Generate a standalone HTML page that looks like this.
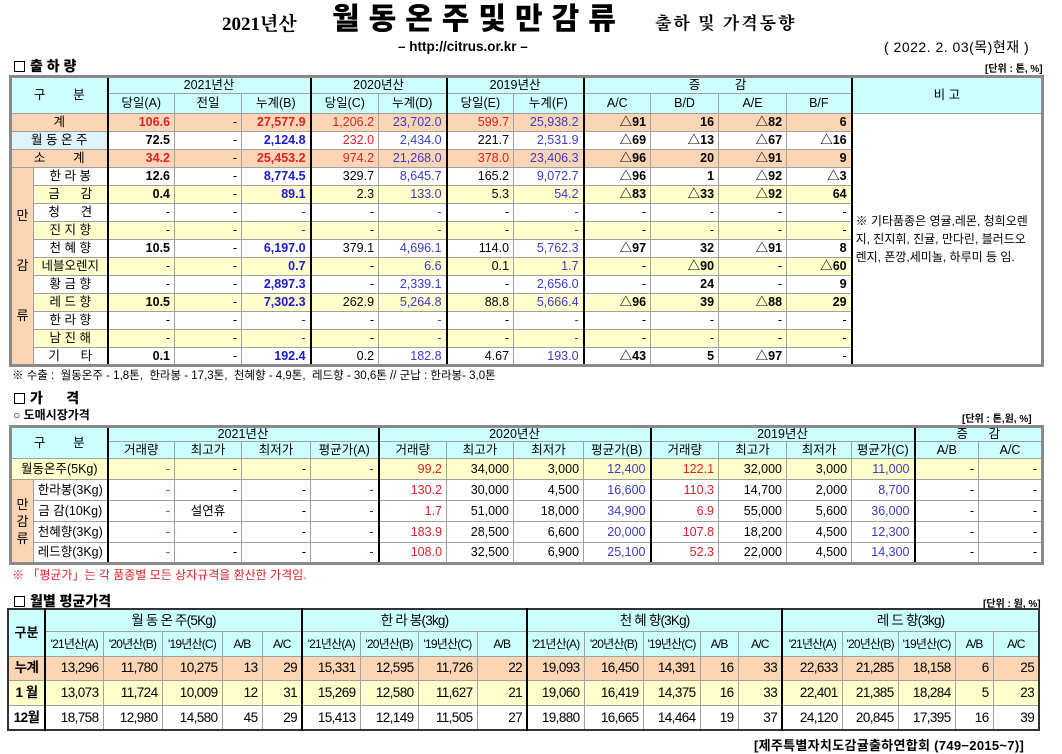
<!DOCTYPE html>
<html><head><meta charset="utf-8">
<style>
*{margin:0;padding:0;box-sizing:border-box}
body{width:1062px;height:754px;background:#fff;position:relative;overflow:hidden;font-family:"Liberation Sans","Noto Sans CJK KR",sans-serif;color:#000}
.a{position:absolute;white-space:nowrap}
table{position:absolute;border-collapse:collapse;table-layout:fixed;font-size:12.5px}
td{border:1px solid #a0a0a0;text-align:right;padding:0 4px;overflow:hidden;white-space:nowrap;line-height:1}
.h td{background:#ccffff;text-align:center;padding:0}
.c{text-align:center!important;padding:0!important}
.pk td{background:#fcd5b4}
.yl td{background:#ffffcc}
.b{font-weight:bold}
.r{color:#e0202a}
.bl{color:#1a1ad0}
.pu{color:#3a3ac8}
.bv{border-left:2px solid #000}
.t1{border:3px solid #8a8a8a}
.mg{background:#fcd5b4!important;text-align:center;padding:0}
.sq{display:inline-block;width:11px;height:11px;border:1px solid #000;margin-right:5px;vertical-align:-1px}
.t3 td{font-size:13.5px;letter-spacing:-0.6px}
.t3 .h td{letter-spacing:-0.8px}
</style></head><body>

<div class="a" style="left:222px;top:9px;font-family:'Liberation Serif','Noto Serif CJK SC',serif;font-weight:bold;font-size:19px">2021년산</div>
<div class="a" style="left:332px;top:2px;font-weight:900;font-size:30px;letter-spacing:9px;line-height:36px">월동온주및만감류</div>
<div class="a" style="left:655px;top:9px;font-family:'Noto Serif CJK SC',serif;font-weight:bold;font-size:17px;letter-spacing:2px">출하 및 가격동향</div>
<div class="a" style="left:398px;top:39px;font-weight:bold;font-size:13.5px">– http://citrus.or.kr –</div>
<div class="a" style="left:884px;top:37px;font-size:14px;letter-spacing:0.5px">( 2022. 2. 03(목)현재 )</div>

<div class="a" style="left:14px;top:56px;font-weight:900;font-size:14px"><span class="sq"></span>출 하 량</div>
<div class="a" style="left:985px;top:60px;font-size:10px;font-weight:bold">[단위 : 톤, %]</div>

<table class="t1" style="left:9px;top:75px;width:1035px">
<colgroup><col style="width:23px"><col style="width:74px"><col style="width:67px"><col style="width:67px"><col style="width:69px"><col style="width:68px"><col style="width:68px"><col style="width:67px"><col style="width:70px"><col style="width:67px"><col style="width:68px"><col style="width:68px"><col style="width:65px"><col style="width:191px"></colgroup>
<tr class="h" style="height:17px"><td colspan="2" rowspan="2">구&nbsp;&nbsp;&nbsp;&nbsp;&nbsp;&nbsp;&nbsp;&nbsp;분</td><td colspan="3" class="bv">2021년산</td><td colspan="2" class="bv">2020년산</td><td colspan="2" class="bv">2019년산</td><td colspan="4" class="bv">증&nbsp;&nbsp;&nbsp;&nbsp;&nbsp;&nbsp;&nbsp;&nbsp;&nbsp;&nbsp;감</td><td rowspan="2" class="bv">비 고</td></tr>
<tr class="h" style="height:20px"><td class="bv">당일(A)</td><td>전일</td><td>누계(B)</td><td class="bv">당일(C)</td><td>누계(D)</td><td class="bv">당일(E)</td><td>누계(F)</td><td class="bv">A/C</td><td>B/D</td><td>A/E</td><td>B/F</td></tr>
<tr class="pk" style="height:18px"><td colspan="2" class="c">계</td><td class="bv b r">106.6</td><td>-</td><td class="b r">27,577.9</td><td class="bv r">1,206.2</td><td class="pu">23,702.0</td><td class="bv r">599.7</td><td class="pu">25,938.2</td><td class="bv b">△91</td><td class="b">16</td><td class="b">△82</td><td class="b">6</td><td rowspan="14" class="bv" style="background:#fff;text-align:left;padding:0 12px 0 3px;font-size:12px;line-height:18px;white-space:normal;vertical-align:middle">※ 기타품종은 영귤,레몬, 청희오렌지, 진지휘, 진귤, 만다린, 블러드오렌지, 폰깡,세미놀, 하루미 등 임.</td></tr>
<tr style="height:18px"><td colspan="2" class="c" style="background:#dff4fa">월 동 온 주</td><td class="bv b">72.5</td><td>-</td><td class="b bl">2,124.8</td><td class="bv r">232.0</td><td class="pu">2,434.0</td><td class="bv">221.7</td><td class="pu">2,531.9</td><td class="bv b">△69</td><td class="b">△13</td><td class="b">△67</td><td class="b">△16</td></tr>
<tr class="pk" style="height:18px"><td colspan="2" class="c">소&nbsp;&nbsp;&nbsp;&nbsp;&nbsp;&nbsp;&nbsp;&nbsp;계</td><td class="bv b r">34.2</td><td>-</td><td class="b r">25,453.2</td><td class="bv r">974.2</td><td class="pu">21,268.0</td><td class="bv r">378.0</td><td class="pu">23,406.3</td><td class="bv b">△96</td><td class="b">20</td><td class="b">△91</td><td class="b">9</td></tr>
<tr style="height:18px"><td rowspan="11" class="mg" style="line-height:50px;white-space:normal;font-size:13px">만<br>감<br>류</td><td class="c">한 라 봉</td><td class="bv b">12.6</td><td>-</td><td class="b bl">8,774.5</td><td class="bv">329.7</td><td class="pu">8,645.7</td><td class="bv">165.2</td><td class="pu">9,072.7</td><td class="bv b">△96</td><td class="b">1</td><td class="b">△92</td><td class="b">△3</td></tr>
<tr class="yl" style="height:18px"><td class="c">금&nbsp;&nbsp;&nbsp;&nbsp;&nbsp;&nbsp;감</td><td class="bv b">0.4</td><td>-</td><td class="b bl">89.1</td><td class="bv">2.3</td><td class="pu">133.0</td><td class="bv">5.3</td><td class="pu">54.2</td><td class="bv b">△83</td><td class="b">△33</td><td class="b">△92</td><td class="b">64</td></tr>
<tr style="height:18px"><td class="c">청&nbsp;&nbsp;&nbsp;&nbsp;&nbsp;&nbsp;견</td><td class="bv">-</td><td>-</td><td class="bl">-</td><td class="bv">-</td><td class="pu">-</td><td class="bv">-</td><td class="pu">-</td><td class="bv">-</td><td>-</td><td>-</td><td>-</td></tr>
<tr class="yl" style="height:18px"><td class="c">진 지 향</td><td class="bv">-</td><td>-</td><td class="bl">-</td><td class="bv">-</td><td class="pu">-</td><td class="bv">-</td><td class="pu">-</td><td class="bv">-</td><td>-</td><td>-</td><td>-</td></tr>
<tr style="height:18px"><td class="c">천 혜 향</td><td class="bv b">10.5</td><td>-</td><td class="b bl">6,197.0</td><td class="bv">379.1</td><td class="pu">4,696.1</td><td class="bv">114.0</td><td class="pu">5,762.3</td><td class="bv b">△97</td><td class="b">32</td><td class="b">△91</td><td class="b">8</td></tr>
<tr class="yl" style="height:18px"><td class="c">네블오렌지</td><td class="bv">-</td><td>-</td><td class="b bl">0.7</td><td class="bv">-</td><td class="pu">6.6</td><td class="bv">0.1</td><td class="pu">1.7</td><td class="bv">-</td><td class="b">△90</td><td>-</td><td class="b">△60</td></tr>
<tr style="height:18px"><td class="c">황 금 향</td><td class="bv">-</td><td>-</td><td class="b bl">2,897.3</td><td class="bv">-</td><td class="pu">2,339.1</td><td class="bv">-</td><td class="pu">2,656.0</td><td class="bv">-</td><td class="b">24</td><td>-</td><td class="b">9</td></tr>
<tr class="yl" style="height:18px"><td class="c">레 드 향</td><td class="bv b">10.5</td><td>-</td><td class="b bl">7,302.3</td><td class="bv">262.9</td><td class="pu">5,264.8</td><td class="bv">88.8</td><td class="pu">5,666.4</td><td class="bv b">△96</td><td class="b">39</td><td class="b">△88</td><td class="b">29</td></tr>
<tr style="height:18px"><td class="c">한 라 향</td><td class="bv">-</td><td>-</td><td class="bl">-</td><td class="bv">-</td><td class="pu">-</td><td class="bv">-</td><td class="pu">-</td><td class="bv">-</td><td>-</td><td>-</td><td>-</td></tr>
<tr class="yl" style="height:18px"><td class="c">남 진 해</td><td class="bv">-</td><td>-</td><td class="bl">-</td><td class="bv">-</td><td class="pu">-</td><td class="bv">-</td><td class="pu">-</td><td class="bv">-</td><td>-</td><td>-</td><td>-</td></tr>
<tr style="height:18px"><td class="c">기&nbsp;&nbsp;&nbsp;&nbsp;&nbsp;&nbsp;타</td><td class="bv b">0.1</td><td>-</td><td class="b bl">192.4</td><td class="bv">0.2</td><td class="pu">182.8</td><td class="bv">4.67</td><td class="pu">193.0</td><td class="bv b">△43</td><td class="b">5</td><td class="b">△97</td><td>-</td></tr>
</table>

<div class="a" style="left:12px;top:367px;font-size:11.5px">※ 수출 :&nbsp; 월동온주 - 1,8톤,&nbsp; 한라봉 - 17,3톤,&nbsp; 천혜향 - 4,9톤,&nbsp; 레드향 - 30,6톤 // 군납 : 한라봉- 3,0톤</div>

<div class="a" style="left:14px;top:388px;font-weight:900;font-size:14px"><span class="sq"></span>가&nbsp;&nbsp;&nbsp;&nbsp;&nbsp;&nbsp;격</div>
<div class="a" style="left:13px;top:406px;font-weight:bold;font-size:12px">○ 도매시장가격</div>
<div class="a" style="left:962px;top:410px;font-size:10px;font-weight:bold">[단위 : 톤,원, %]</div>

<table class="t1" style="left:9px;top:425px;width:1035px">
<colgroup><col style="width:23px"><col style="width:74px"><col style="width:67px"><col style="width:67px"><col style="width:69px"><col style="width:68px"><col style="width:68px"><col style="width:67px"><col style="width:70px"><col style="width:67px"><col style="width:68px"><col style="width:68px"><col style="width:65px"><col style="width:63px"><col style="width:64px"><col style="width:64px"></colgroup>
<tr class="h" style="height:15px"><td colspan="2" rowspan="2">구&nbsp;&nbsp;&nbsp;&nbsp;&nbsp;&nbsp;&nbsp;&nbsp;분</td><td colspan="4" class="bv">2021년산</td><td colspan="4" class="bv">2020년산</td><td colspan="4" class="bv">2019년산</td><td colspan="2" class="bv">증&nbsp;&nbsp;&nbsp;&nbsp;&nbsp;&nbsp;감</td></tr>
<tr class="h" style="height:17px"><td class="bv">거래량</td><td>최고가</td><td>최저가</td><td>평균가(A)</td><td class="bv">거래량</td><td>최고가</td><td>최저가</td><td>평균가(B)</td><td class="bv">거래량</td><td>최고가</td><td>최저가</td><td>평균가(C)</td><td class="bv">A/B</td><td style="border-left:1px dotted #000">A/C</td></tr>
<tr class="yl" style="height:21px"><td colspan="2" class="c">월동온주(5Kg)</td><td class="bv r">-</td><td>-</td><td>-</td><td class="bl">-</td><td class="bv r">99.2</td><td>34,000</td><td>3,000</td><td class="pu">12,400</td><td class="bv r">122.1</td><td>32,000</td><td>3,000</td><td class="pu">11,000</td><td class="bv">-</td><td style="border-left:1px dotted #000">-</td></tr>
<tr style="height:21px"><td rowspan="4" class="mg" style="line-height:17px;white-space:normal;font-size:13px">만<br>감<br>류</td><td class="c">한라봉(3Kg)</td><td class="bv r">-</td><td>-</td><td>-</td><td class="bl">-</td><td class="bv r">130.2</td><td>30,000</td><td>4,500</td><td class="pu">16,600</td><td class="bv r">110.3</td><td>14,700</td><td>2,000</td><td class="pu">8,700</td><td class="bv">-</td><td style="border-left:1px dotted #000">-</td></tr>
<tr style="height:21px"><td class="c">금 감(10Kg)</td><td class="bv r">-</td><td class="c">설연휴</td><td>-</td><td class="bl">-</td><td class="bv r">1.7</td><td>51,000</td><td>18,000</td><td class="pu">34,900</td><td class="bv r">6.9</td><td>55,000</td><td>5,600</td><td class="pu">36,000</td><td class="bv">-</td><td style="border-left:1px dotted #000">-</td></tr>
<tr style="height:21px"><td class="c">천혜향(3Kg)</td><td class="bv r">-</td><td>-</td><td>-</td><td class="bl">-</td><td class="bv r">183.9</td><td>28,500</td><td>6,600</td><td class="pu">20,000</td><td class="bv r">107.8</td><td>18,200</td><td>4,500</td><td class="pu">12,300</td><td class="bv">-</td><td style="border-left:1px dotted #000">-</td></tr>
<tr style="height:21px"><td class="c">레드향(3Kg)</td><td class="bv r">-</td><td>-</td><td>-</td><td class="bl">-</td><td class="bv r">108.0</td><td>32,500</td><td>6,900</td><td class="pu">25,100</td><td class="bv r">52.3</td><td>22,000</td><td>4,500</td><td class="pu">14,300</td><td class="bv">-</td><td style="border-left:1px dotted #000">-</td></tr>
</table>

<div class="a r" style="left:12px;top:566px;font-size:12px">※ 「평균가」는 각 품종별 모든 상자규격을 환산한 가격임.</div>

<div class="a" style="left:14px;top:591px;font-weight:900;font-size:14px"><span class="sq"></span>월별 평균가격</div>
<div class="a" style="left:983px;top:595px;font-size:10px;font-weight:bold">[단위 : 원, %]</div>

<table class="t3" style="left:7px;top:608px;width:1033px;border:2px solid #333">
<colgroup><col style="width:37px"><col style="width:58px"><col style="width:59px"><col style="width:60px"><col style="width:40px"><col style="width:40px"><col style="width:58px"><col style="width:58px"><col style="width:59px"><col style="width:50px"><col style="width:57px"><col style="width:59px"><col style="width:57px"><col style="width:38px"><col style="width:44px"><col style="width:60px"><col style="width:56px"><col style="width:57px"><col style="width:38px"><col style="width:46px"></colgroup>
<tr class="h" style="height:22px"><td rowspan="2" class="b" style="font-size:13px;letter-spacing:0">구분</td><td colspan="5" class="bv">월 동 온 주(5Kg)</td><td colspan="4" class="bv">한 라 봉(3kg)</td><td colspan="5" class="bv">천 혜 향(3Kg)</td><td colspan="5" class="bv">레 드 향(3kg)</td></tr>
<tr class="h" style="height:25px"><td class="bv" style="font-size:12px">'21년산(A)</td><td style="font-size:12px">'20년산(B)</td><td style="font-size:12px">'19년산(C)</td><td style="font-size:12px">A/B</td><td style="font-size:12px">A/C</td><td class="bv" style="font-size:12px">'21년산(A)</td><td style="font-size:12px">'20년산(B)</td><td style="font-size:12px">'19년산(C)</td><td style="font-size:12px">A/B</td><td class="bv" style="font-size:12px">'21년산(A)</td><td style="font-size:12px">'20년산(B)</td><td style="font-size:12px">'19년산(C)</td><td style="font-size:12px">A/B</td><td style="font-size:12px">A/C</td><td class="bv" style="font-size:12px">'21년산(A)</td><td style="font-size:12px">'20년산(B)</td><td style="font-size:12px">'19년산(C)</td><td style="font-size:12px">A/B</td><td style="font-size:12px">A/C</td></tr>
<tr class="pk" style="height:24px"><td class="c b">누계</td><td class="bv">13,296</td><td>11,780</td><td>10,275</td><td>13</td><td>29</td><td class="bv">15,331</td><td>12,595</td><td>11,726</td><td>22</td><td class="bv">19,093</td><td>16,450</td><td>14,391</td><td>16</td><td>33</td><td class="bv">22,633</td><td>21,285</td><td>18,158</td><td>6</td><td>25</td></tr>
<tr class="yl" style="height:25px"><td class="c b">1 월</td><td class="bv">13,073</td><td>11,724</td><td>10,009</td><td>12</td><td>31</td><td class="bv">15,269</td><td>12,580</td><td>11,627</td><td>21</td><td class="bv">19,060</td><td>16,419</td><td>14,375</td><td>16</td><td>33</td><td class="bv">22,401</td><td>21,385</td><td>18,284</td><td>5</td><td>23</td></tr>
<tr style="height:25px"><td class="c b">12월</td><td class="bv">18,758</td><td>12,980</td><td>14,580</td><td>45</td><td>29</td><td class="bv">15,413</td><td>12,149</td><td>11,505</td><td>27</td><td class="bv">19,880</td><td>16,665</td><td>14,464</td><td>19</td><td>37</td><td class="bv">24,120</td><td>20,845</td><td>17,395</td><td>16</td><td>39</td></tr>
</table>

<div class="a" style="left:754px;top:735px;font-size:13px;font-weight:bold;letter-spacing:0.3px">[제주특별자치도감귤출하연합회 (749−2015~7)]</div>
</body></html>
